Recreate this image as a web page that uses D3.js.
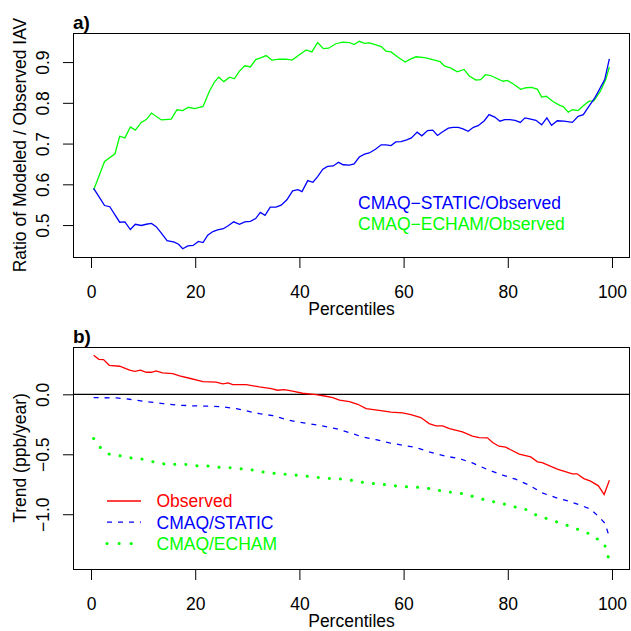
<!DOCTYPE html>
<html>
<head>
<meta charset="utf-8">
<script src="https://cdn.jsdelivr.net/npm/d3@7"></script>
<style>
  body { margin: 0; background: #fff; }
  svg { display: block; font-family: "Liberation Sans", Arial, sans-serif; }
</style>
</head>
<body>
<div id="wrapper"></div>
<script>
// panel a: ratio of modeled / observed IAV, [percentile, ratio]
const staticRatio = [[0.5,0.590],[1.7,0.566],[2.6,0.548],[3.6,0.545],[4.6,0.525],[5.5,0.507],[6.5,0.508],[7.55,0.489],[8.5,0.502],[9.65,0.499],[10.6,0.502],[11.6,0.504],[12.5,0.496],[13.5,0.480],[14.6,0.462],[16,0.458],[16.8,0.453],[17.6,0.442],[18.6,0.449],[19.6,0.450],[20.6,0.460],[21.5,0.457],[22.4,0.475],[23.4,0.484],[24.3,0.488],[25.4,0.491],[26.4,0.499],[27.4,0.508],[28.5,0.502],[29.5,0.508],[30.6,0.509],[31.6,0.516],[32.5,0.531],[33.4,0.524],[34.4,0.544],[35.5,0.544],[36.5,0.549],[37.6,0.562],[38.7,0.584],[39.7,0.587],[40.5,0.582],[41.6,0.609],[42.6,0.605],[43.5,0.619],[44.5,0.637],[45.4,0.644],[46.5,0.645],[47.5,0.654],[48.4,0.648],[49.6,0.647],[50.5,0.650],[51.5,0.667],[52.5,0.674],[53.4,0.677],[54.6,0.686],[55.7,0.697],[56.6,0.697],[57.6,0.695],[58.5,0.704],[59.5,0.705],[60.6,0.709],[61.5,0.714],[62.6,0.728],[63.5,0.719],[64.6,0.732],[65.6,0.733],[66.5,0.720],[67.5,0.729],[68.6,0.738],[69.5,0.740],[70.5,0.740],[71.4,0.736],[72.4,0.730],[73.4,0.740],[74.3,0.744],[75.5,0.756],[76.4,0.771],[77.5,0.765],[78.5,0.755],[79.4,0.759],[80.4,0.759],[81.4,0.757],[82.4,0.752],[83.3,0.763],[84.4,0.760],[85.4,0.757],[86.5,0.746],[87.5,0.763],[88.4,0.745],[89.5,0.756],[90.8,0.755],[92.4,0.752],[93.5,0.767],[94.5,0.771],[95.6,0.792],[96.7,0.812],[97.6,0.833],[98.6,0.857],[99.5,0.908]]
const echamRatio = [[0.5,0.586],[2.6,0.656],[4.6,0.675],[5.5,0.718],[6.5,0.714],[7.55,0.741],[8.5,0.733],[9.65,0.752],[10.6,0.759],[11.6,0.775],[13.5,0.758],[15.4,0.760],[16.5,0.783],[17.6,0.781],[18.7,0.789],[19.9,0.786],[21.5,0.791],[22.75,0.829],[23.7,0.851],[24.5,0.863],[25.5,0.852],[26.6,0.863],[27.5,0.859],[28.5,0.878],[29.5,0.891],[30.6,0.888],[31.6,0.906],[32.7,0.911],[33.6,0.916],[34.7,0.905],[36.2,0.907],[37.4,0.907],[38.6,0.905],[40,0.918],[41.3,0.930],[42.4,0.925],[43.5,0.948],[44.6,0.933],[45.6,0.934],[47,0.945],[48.3,0.949],[49.6,0.948],[50.5,0.943],[51.5,0.951],[52.5,0.946],[53.4,0.947],[54.7,0.942],[55.7,0.938],[56.6,0.927],[57.6,0.925],[58.8,0.913],[60.3,0.900],[61.4,0.908],[62.4,0.913],[64,0.911],[65.6,0.906],[67,0.901],[67.9,0.890],[69.1,0.885],[70.3,0.876],[71.6,0.882],[72.6,0.866],[73.9,0.856],[74.8,0.857],[75.7,0.869],[76.7,0.867],[77.7,0.861],[79.1,0.853],[79.9,0.855],[81,0.847],[82.5,0.833],[83.5,0.837],[84.6,0.838],[85.7,0.833],[86.5,0.814],[87.4,0.816],[88.6,0.804],[89.8,0.795],[90.7,0.790],[91.6,0.777],[92.4,0.783],[93.5,0.781],[94.5,0.793],[95.6,0.804],[96.5,0.805],[97.8,0.829],[98.8,0.857],[99.5,0.888]]

// panel b: trend (ppb/year), [percentile, trend]
const observedTrend = [[0.5,0.326],[1.5,0.292],[2.4,0.289],[3.5,0.242],[5.5,0.234],[7.4,0.201],[8.4,0.192],[9.5,0.201],[10.6,0.184],[11.6,0.184],[12.5,0.195],[13.7,0.178],[15.7,0.173],[17,0.153],[18.9,0.134],[21.5,0.106],[24,0.101],[25.3,0.087],[26.3,0.095],[27.2,0.081],[29.8,0.081],[32.3,0.062],[34.6,0.048],[35.8,0.034],[37.1,0.039],[38.7,0.026],[40.6,0.009],[43.2,-0.002],[45.1,-0.016],[46.4,-0.027],[47.7,-0.049],[49.6,-0.060],[51.2,-0.083],[52.8,-0.119],[55.3,-0.133],[57.6,-0.149],[59.8,-0.155],[61.4,-0.169],[63.3,-0.194],[64.9,-0.244],[66.2,-0.263],[67.5,-0.263],[68.8,-0.286],[71.3,-0.313],[73.2,-0.349],[74.5,-0.361],[76.1,-0.363],[77.1,-0.402],[78.3,-0.433],[79.6,-0.441],[82.2,-0.499],[84.4,-0.522],[85.7,-0.563],[86.6,-0.569],[89.5,-0.624],[92.4,-0.663],[93.3,-0.663],[94.6,-0.703],[95.9,-0.724],[97.4,-0.763],[98.5,-0.836],[99.5,-0.716]]
const staticTrend = [[0.5,-0.027],[4.9,-0.030],[7.4,-0.041],[10.6,-0.061],[13.8,-0.077],[17,-0.091],[20.2,-0.097],[23.4,-0.099],[25.3,-0.105],[27.9,-0.119],[29.8,-0.138],[32.3,-0.161],[34.9,-0.178],[37.5,-0.211],[40,-0.233],[43.8,-0.258],[47,-0.286],[49.6,-0.320],[52.1,-0.355],[54.7,-0.378],[57.3,-0.405],[59.8,-0.424],[62.4,-0.444],[64.9,-0.480],[68.1,-0.516],[70.7,-0.536],[73.2,-0.572],[76.4,-0.633],[79,-0.674],[81.5,-0.708],[84.1,-0.758],[86.6,-0.822],[89.2,-0.861],[91.7,-0.891],[94.3,-0.930],[95.9,-0.958],[97.5,-1.022],[98.7,-1.078],[99.5,-1.194]]
const echamTrend = [[0.5,-0.369],[1.8,-0.444],[3.6,-0.502],[5.6,-0.513],[7.7,-0.530],[9.9,-0.541],[12,-0.563],[14.3,-0.583],[16.4,-0.583],[18.5,-0.586],[20.6,-0.597],[22.75,-0.599],[25,-0.611],[27.2,-0.613],[29.3,-0.624],[31.5,-0.633],[33.6,-0.653],[35.8,-0.661],[38.1,-0.669],[40.2,-0.678],[42.4,-0.688],[44.5,-0.697],[46.7,-0.705],[48.8,-0.708],[50.9,-0.724],[53.1,-0.741],[55.2,-0.747],[57.4,-0.758],[59.5,-0.769],[61.7,-0.774],[63.9,-0.778],[66.1,-0.794],[68.2,-0.816],[70.3,-0.819],[72.5,-0.841],[74.6,-0.869],[76.7,-0.891],[78.8,-0.908],[80.9,-0.936],[83,-0.949],[84.9,-0.997],[86.9,-1.028],[89,-1.058],[91,-1.086],[93,-1.119],[95,-1.149],[96.9,-1.199],[98.5,-1.241],[99.5,-1.388]]

const xTicks = [0, 20, 40, 60, 80, 100]
const ratioTicks = [0.5, 0.6, 0.7, 0.8, 0.9]
const trendTicks = [-1.0, -0.5, 0.0]
const ratioLegend = ['CMAQ\u2212STATIC/Observed', 'CMAQ\u2212ECHAM/Observed']
const trendLegend = ['Observed', 'CMAQ/STATIC', 'CMAQ/ECHAM']

const width = 631
const height = 631
const fontSize = 17.5
const left = 73, right = 630

const svg = d3.select('#wrapper').append('svg')
    .attr('width', width)
    .attr('height', height)

// R style axis limits: data range plus 4% on each side
function rLimits(values) {
    const [lo, hi] = d3.extent(values)
    const pad = (hi - lo) * 0.04
    return [lo - pad, hi + pad]
}

const allX = [...staticRatio, ...echamRatio, ...observedTrend, ...staticTrend, ...echamTrend].map(d => d[0])
const xScale = d3.scaleLinear().domain(rLimits(allX)).range([left, right])

function panel(opts) {
    const yScale = d3.scaleLinear()
        .domain(rLimits(opts.series.flatMap(s => s.data.map(d => d[1]))))
        .range([opts.bottom, opts.top])

    const g = svg.append('g')

    if (opts.zeroLine) {
        g.append('line')
            .attr('x1', left).attr('x2', right)
            .attr('y1', yScale(0)).attr('y2', yScale(0))
            .attr('stroke', '#000')
            .attr('stroke-width', 1.2)
    }

    const line = d3.line().x(d => xScale(d[0])).y(d => yScale(d[1]))
    opts.series.forEach(s => {
        g.append('path')
            .datum(s.data)
            .attr('d', line)
            .attr('fill', 'none')
            .attr('stroke', s.color)
            .attr('stroke-width', s.width || 1.3)
            .attr('stroke-dasharray', s.dash || null)
            .attr('stroke-linecap', s.cap || 'butt')
    })

    // box
    g.append('rect')
        .attr('x', left + 0.5)
        .attr('y', opts.top + 0.5)
        .attr('width', right - left - 1)
        .attr('height', opts.bottom - opts.top)
        .attr('fill', 'none')
        .attr('stroke', '#000')
        .attr('stroke-width', 1)

    const xAxis = g.append('g')
        .attr('transform', `translate(0,${opts.bottom + 0.5})`)
        .call(d3.axisBottom(xScale).tickValues(xTicks).tickSize(10.5).tickFormat(d3.format('d')))
    xAxis.select('.domain').remove()
    xAxis.selectAll('.tick text')
        .attr('y', 40).attr('dy', 0)
        .attr('font-size', fontSize)
        .attr('fill', '#000')

    const yAxis = g.append('g')
        .attr('transform', `translate(${left + 0.5},0)`)
        .call(d3.axisLeft(yScale).tickValues(opts.ticks).tickSize(10.5).tickFormat(d3.format('.1f')))
    yAxis.select('.domain').remove()
    yAxis.selectAll('.tick text')
        .attr('x', 0).attr('dy', 0)
        .attr('text-anchor', 'middle')
        .attr('transform', 'translate(-25,0) rotate(-90)')
        .attr('font-size', fontSize)
        .attr('fill', '#000')
    svg.selectAll('.tick line').attr('stroke', '#000')

    g.append('text')
        .attr('x', (left + right) / 2)
        .attr('y', opts.bottom + 58)
        .attr('text-anchor', 'middle')
        .attr('font-size', fontSize)
        .text('Percentiles')

    g.append('text')
        .attr('transform', `translate(26,${(opts.top + opts.bottom) / 2}) rotate(-90)`)
        .attr('text-anchor', 'middle')
        .attr('font-size', fontSize)
        .text(opts.yLabel)

    g.append('text')
        .attr('x', left)
        .attr('y', opts.top - 4)
        .attr('font-size', 19)
        .attr('font-weight', 'bold')
        .text(opts.title)

    return g
}

const green = '#00ff00', blue = '#0000ff', red = '#ff0000'

const panelA = panel({
    top: 33, bottom: 257,
    title: 'a)',
    yLabel: 'Ratio of Modeled / Observed IAV',
    ticks: ratioTicks,
    series: [
        { data: echamRatio, color: green },
        { data: staticRatio, color: blue }
    ]
})

panelA.selectAll('.legend')
    .data(ratioLegend)
    .enter()
    .append('text')
    .attr('x', 358)
    .attr('y', (d, i) => 208.5 + i * 21.7)
    .attr('font-size', fontSize)
    .attr('fill', (d, i) => [blue, green][i])
    .text(d => d)

const trendStyles = [
    { data: observedTrend, color: red },
    { data: staticTrend, color: blue, dash: '5 6' },
    { data: echamTrend, color: green, dash: '0.1 11', width: 3, cap: 'round' }
]

const panelB = panel({
    top: 347, bottom: 569,
    title: 'b)',
    yLabel: 'Trend (ppb/year)',
    ticks: trendTicks,
    zeroLine: true,
    series: trendStyles
})

const legB = panelB.selectAll('.legend')
    .data(trendLegend)
    .enter()
    .append('g')
    .attr('transform', (d, i) => `translate(0,${501 + i * 21.2})`)
legB.append('line')
    .attr('x1', 107).attr('x2', 141)
    .attr('stroke', (d, i) => trendStyles[i].color)
    .attr('stroke-width', (d, i) => trendStyles[i].width || 1.3)
    .attr('stroke-dasharray', (d, i) => i === 2 ? '0.1 12' : (trendStyles[i].dash || null))
    .attr('stroke-linecap', (d, i) => trendStyles[i].cap || 'butt')
legB.append('text')
    .attr('x', 156.5)
    .attr('y', 6.3)
    .attr('font-size', fontSize)
    .attr('fill', (d, i) => trendStyles[i].color)
    .text(d => d)
</script>
</body>
</html>
